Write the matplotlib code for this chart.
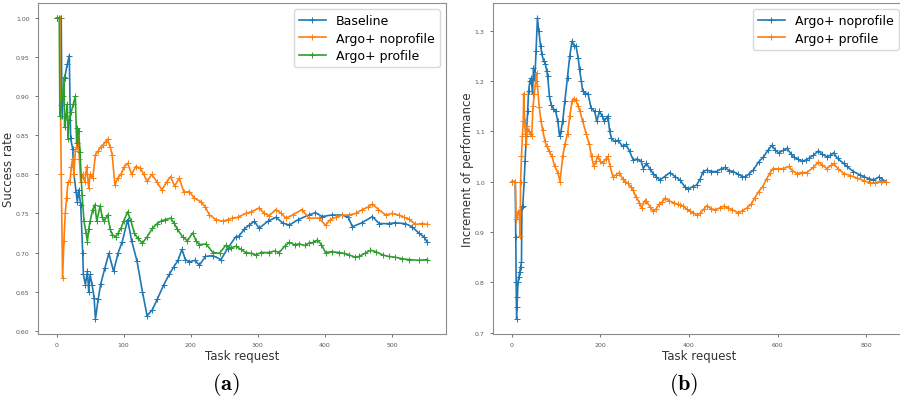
import matplotlib
matplotlib.use('Agg')
import matplotlib.pyplot as plt

plt.rcParams.update({
    "font.family": "DejaVu Sans",
    "mathtext.fontset": "cm",
    "axes.edgecolor": "0.55",
    "axes.linewidth": 0.8,
    "xtick.color": "0.35",
    "ytick.color": "0.35",
    "xtick.labelsize": 4.5,
    "ytick.labelsize": 4.5,
    "xtick.major.size": 2.5,
    "ytick.major.size": 2.5,
    "xtick.major.width": 0.6,
    "ytick.major.width": 0.6,
})

BLUE = "#1f77b4"
ORANGE = "#ff7f0e"
GREEN = "#2ca02c"

# ── (a) success rate ─────────────────────────────────────────────────────────
base_x = [0, 7, 8, 12, 16, 19, 21, 24, 26, 29, 31, 33, 36, 39, 40, 43, 46, 48,
          50, 53, 56, 58, 62, 66, 72, 78, 85, 92, 98, 106, 112, 120, 128, 135,
          143, 150, 160, 168, 175, 181, 187, 192, 198, 206, 213, 222, 233, 245,
          255, 267, 272, 280, 287, 295, 302, 315, 327, 337, 347, 360, 376, 386,
          396, 410, 426, 435, 441, 455, 471, 481, 495, 505, 520, 530, 540, 548,
          553]
base_y = [1.0, 1.0, 0.875, 0.923, 0.941, 0.952, 0.846, 0.833, 0.80, 0.778,
          0.765, 0.78, 0.761, 0.70, 0.672, 0.659, 0.676, 0.65, 0.672, 0.659,
          0.642, 0.615, 0.64, 0.66, 0.68, 0.699, 0.676, 0.70, 0.714, 0.742,
          0.715, 0.689, 0.65, 0.619, 0.627, 0.64, 0.659, 0.672, 0.682, 0.69,
          0.704, 0.691, 0.688, 0.69, 0.684, 0.695, 0.696, 0.691, 0.705, 0.72,
          0.721, 0.73, 0.735, 0.74, 0.731, 0.74, 0.745, 0.738, 0.735, 0.742,
          0.748, 0.751, 0.746, 0.748, 0.748, 0.745, 0.733, 0.738, 0.746, 0.737,
          0.737, 0.738, 0.737, 0.733, 0.725, 0.72, 0.713]

nop_x = [0, 5, 6, 7, 9, 11, 13, 15, 17, 20, 22, 24, 26, 28, 30, 32, 34, 36,
         39, 42, 45, 48, 50, 54, 58, 62, 66, 70, 73, 76, 80, 83, 87, 91, 96,
         101, 106, 112, 118, 125, 130, 135, 142, 150, 157, 164, 170, 176, 183,
         190, 198, 205, 215, 222, 228, 238, 248, 255, 262, 270, 282, 290, 302,
         310, 317, 327, 335, 342, 352, 366, 376, 391, 401, 408, 416, 426, 436,
         446, 456, 464, 471, 480, 491, 500, 510, 518, 525, 535, 545, 553]
nop_y = [1.0, 1.0, 0.875, 0.80, 0.667, 0.715, 0.75, 0.77, 0.79, 0.79, 0.81,
         0.82, 0.80, 0.83, 0.835, 0.855, 0.82, 0.79, 0.80, 0.79, 0.81, 0.782,
         0.80, 0.795, 0.825, 0.83, 0.835, 0.838, 0.842, 0.845, 0.835, 0.825,
         0.786, 0.795, 0.80, 0.81, 0.814, 0.80, 0.81, 0.808, 0.80, 0.791, 0.80,
         0.79, 0.78, 0.79, 0.797, 0.785, 0.795, 0.777, 0.778, 0.77, 0.765,
         0.758, 0.748, 0.742, 0.74, 0.742, 0.744, 0.745, 0.75, 0.752, 0.757,
         0.75, 0.747, 0.755, 0.75, 0.744, 0.748, 0.755, 0.744, 0.744, 0.735,
         0.742, 0.745, 0.748, 0.748, 0.75, 0.755, 0.758, 0.762, 0.755, 0.748,
         0.75, 0.748, 0.745, 0.743, 0.736, 0.737, 0.736]

prof_x = [0, 4, 5, 7, 9, 11, 12, 14, 16, 17, 19, 22, 25, 28, 30, 31, 33, 35,
          38, 41, 44, 46, 48, 50, 54, 57, 60, 65, 68, 71, 76, 80, 83, 88, 92,
          96, 100, 106, 111, 116, 121, 128, 135, 143, 150, 155, 162, 170, 175,
          180, 188, 195, 203, 208, 213, 223, 233, 243, 252, 260, 267, 275, 282,
          290, 297, 305, 317, 325, 332, 340, 347, 355, 362, 370, 376, 383, 389,
          395, 401, 410, 421, 428, 436, 445, 451, 460, 468, 476, 486, 495, 505,
          515, 525, 540, 553]
prof_y = [1.0, 1.0, 0.875, 0.889, 0.90, 0.924, 0.86, 0.875, 0.89, 0.845, 0.87,
          0.88, 0.89, 0.90, 0.84, 0.859, 0.855, 0.829, 0.774, 0.74, 0.725,
          0.714, 0.73, 0.74, 0.755, 0.761, 0.74, 0.76, 0.745, 0.74, 0.748,
          0.73, 0.723, 0.72, 0.725, 0.731, 0.74, 0.752, 0.74, 0.725, 0.718,
          0.712, 0.72, 0.731, 0.737, 0.74, 0.742, 0.744, 0.738, 0.73, 0.72,
          0.715, 0.725, 0.715, 0.71, 0.711, 0.70, 0.699, 0.709, 0.706, 0.708,
          0.704, 0.70, 0.699, 0.697, 0.70, 0.70, 0.702, 0.70, 0.708, 0.713,
          0.71, 0.711, 0.709, 0.712, 0.713, 0.716, 0.71, 0.70, 0.701, 0.70,
          0.699, 0.697, 0.694, 0.695, 0.699, 0.703, 0.701, 0.697, 0.695, 0.694,
          0.692, 0.691, 0.69, 0.691]

# ── (b) increment of performance ─────────────────────────────────────────────
inc_nop_x = [0, 8, 9, 10, 11, 12, 13, 14, 16, 18, 20, 22, 23, 25, 28, 30, 33,
             36, 38, 41, 44, 47, 49, 52, 55, 58, 61, 65, 68, 72, 76, 79, 81,
             85, 89, 94, 99, 104, 108, 111, 115, 120, 126, 131, 136, 141, 145,
             150, 153, 157, 160, 166, 172, 179, 187, 192, 198, 204, 209, 214,
             217, 221, 225, 232, 240, 250, 258, 266, 274, 283, 292, 297, 304,
             312, 319, 326, 334, 345, 357, 368, 380, 390, 398, 408, 417, 425,
             432, 440, 450, 462, 472, 481, 490, 500, 510, 520, 527, 535, 545,
             557, 568, 578, 587, 595, 602, 612, 621, 630, 636, 645, 655, 663,
             670, 680, 692, 700, 711, 718, 726, 735, 749, 756, 771, 786, 794,
             805, 816, 828, 836, 845]
inc_nop_y = [1.0, 1.0, 0.889, 0.80, 0.727, 0.75, 0.77, 0.80, 0.81, 0.82, 0.83,
             0.84, 0.95, 0.952, 1.0, 1.04, 1.09, 1.14, 1.18, 1.20, 1.206,
             1.174, 1.226, 1.20, 1.26, 1.325, 1.30, 1.27, 1.253, 1.24, 1.233,
             1.22, 1.21, 1.17, 1.153, 1.145, 1.14, 1.12, 1.09, 1.10, 1.12, 1.16,
             1.206, 1.25, 1.279, 1.27, 1.27, 1.245, 1.223, 1.20, 1.18, 1.175,
             1.175, 1.146, 1.14, 1.12, 1.14, 1.13, 1.12, 1.127, 1.13, 1.10,
             1.086, 1.08, 1.082, 1.07, 1.074, 1.06, 1.043, 1.045, 1.04, 1.026,
             1.036, 1.025, 1.016, 1.01, 1.003, 1.01, 1.018, 1.01, 1.003, 0.99,
             0.985, 0.99, 0.993, 1.005, 1.02, 1.023, 1.02, 1.02, 1.025, 1.028,
             1.022, 1.02, 1.015, 1.01, 1.009, 1.015, 1.023, 1.039, 1.049,
             1.062, 1.072, 1.062, 1.057, 1.062, 1.066, 1.055, 1.049, 1.045,
             1.04, 1.043, 1.046, 1.052, 1.061, 1.055, 1.049, 1.052, 1.057,
             1.046, 1.036, 1.03, 1.02, 1.013, 1.01, 1.006, 1.003, 1.009, 1.004,
             1.0]

inc_prof_x = [0, 8, 10, 12, 14, 17, 19, 20, 22, 24, 26, 27, 29, 31, 33, 35,
              38, 42, 45, 48, 51, 54, 56, 58, 62, 66, 70, 75, 79, 85, 91, 97,
              104, 109, 115, 120, 126, 131, 136, 140, 144, 150, 154, 160, 168,
              175, 180, 185, 190, 194, 200, 206, 212, 217, 222, 228, 235, 243,
              250, 256, 262, 268, 273, 280, 288, 293, 300, 304, 312, 319, 325,
              333, 340, 346, 355, 365, 374, 380, 387, 395, 402, 410, 417, 425,
              433, 440, 450, 459, 470, 478, 488, 498, 511, 520, 530, 540, 548,
              557, 566, 575, 583, 590, 600, 613, 625, 633, 643, 655, 666, 680,
              692, 700, 711, 720, 726, 737, 749, 764, 779, 795, 809, 820, 832,
              845]
inc_prof_y = [1.0, 1.0, 0.925, 0.93, 0.94, 0.94, 0.892, 1.0, 1.05, 1.09, 1.12,
              1.175, 1.12, 1.095, 1.075, 1.11, 1.10, 1.095, 1.09, 1.15, 1.174,
              1.20, 1.216, 1.19, 1.148, 1.12, 1.102, 1.08, 1.07, 1.06, 1.05,
              1.03, 1.018, 1.0, 1.05, 1.075, 1.095, 1.13, 1.16, 1.165, 1.163,
              1.15, 1.14, 1.12, 1.095, 1.074, 1.05, 1.03, 1.04, 1.05, 1.04,
              1.036, 1.045, 1.05, 1.03, 1.01, 1.013, 1.018, 1.005, 1.0, 0.997,
              0.99, 0.984, 0.97, 0.958, 0.948, 0.962, 0.961, 0.95, 0.941, 0.945,
              0.955, 0.96, 0.967, 0.962, 0.958, 0.955, 0.954, 0.951, 0.945,
              0.941, 0.938, 0.934, 0.937, 0.945, 0.952, 0.946, 0.944, 0.948,
              0.951, 0.948, 0.944, 0.938, 0.942, 0.947, 0.955, 0.967, 0.98,
              0.99, 1.005, 1.018, 1.026, 1.025, 1.026, 1.03, 1.022, 1.016,
              1.018, 1.018, 1.028, 1.039, 1.033, 1.026, 1.032, 1.036, 1.025,
              1.016, 1.012, 1.007, 1.002, 0.997, 0.998, 1.0, 1.0]

LINE = dict(marker="+", markersize=4.5, markeredgewidth=0.7, linewidth=1.2)
LEG = dict(loc="upper right", fontsize=9, framealpha=1, edgecolor="0.85",
           handlelength=2.2, borderaxespad=0.5, labelspacing=0.35)

fig = plt.figure(figsize=(9, 4.02), dpi=100)
ax1 = fig.add_axes([38 / 900, 67 / 402, 408 / 900, 331 / 402])
ax2 = fig.add_axes([493 / 900, 67 / 402, 412 / 900, 331 / 402])

ax1.plot(base_x, base_y, color=BLUE, label="Baseline", **LINE)
ax1.plot(nop_x, nop_y, color=ORANGE, label="Argo+ noprofile", **LINE)
ax1.plot(prof_x, prof_y, color=GREEN, label="Argo+ profile", **LINE)
ax1.set_xlabel("Task request", fontsize=8.5, color="0.2", labelpad=1)
ax1.set_ylabel("Success rate", fontsize=8.5, color="0.2", labelpad=0.5)
ax1.legend(**LEG)

ax2.plot(inc_nop_x, inc_nop_y, color=BLUE, label="Argo+ noprofile", **LINE)
ax2.plot(inc_prof_x, inc_prof_y, color=ORANGE, label="Argo+ profile", **LINE)
ax2.set_xlabel("Task request", fontsize=8.5, color="0.2", labelpad=1)
ax2.set_ylabel("Increment of performance", fontsize=8.5, color="0.2",
               labelpad=0.5)
ax2.set_xticks([0, 200, 400, 600, 800])
ax2.legend(**LEG)

fig.text(226 / 900, 1 - 385 / 402, r"$\mathbf{(a)}$", fontsize=16,
         ha="center", va="center")
fig.text(684 / 900, 1 - 385 / 402, r"$\mathbf{(b)}$", fontsize=16,
         ha="center", va="center")

fig.savefig("out.png", dpi=100, facecolor="white")
plt.close(fig)
